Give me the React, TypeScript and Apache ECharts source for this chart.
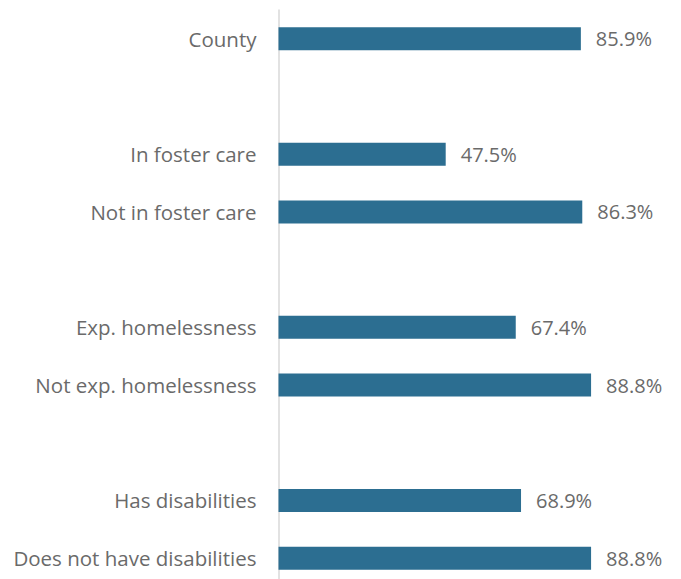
import React, { useEffect, useRef } from "react";
import * as echarts from "echarts";

const categories: string[] = [
  "County",
  "",
  "In foster care",
  "Not in foster care",
  " ",
  "Exp. homelessness",
  "Not exp. homelessness",
  "  ",
  "Has disabilities",
  "Does not have disabilities",
];

const values: (number | null)[] = [85.9, null, 47.5, 86.3, null, 67.4, 88.8, null, 68.9, 88.8];

const BAR_COLOR = "#2c6e91";
const TEXT_COLOR = "#6a6a6a";
const FONT = "'Open Sans', 'Noto Sans', sans-serif";

export default function App() {
  const ref = useRef<HTMLDivElement>(null);
  useEffect(() => {
    if (!ref.current) return;
    const chart = echarts.init(ref.current, undefined, { renderer: "svg" });
    chart.setOption({
      animation: false,
      grid: { left: 270.5, top: 2, width: 352, height: 577, containLabel: false },
      xAxis: {
        type: "value",
        min: 0,
        max: 100,
        show: false,
      },
      yAxis: {
        type: "category",
        inverse: true,
        data: categories,
        axisLine: { show: true, lineStyle: { color: "#d9d9d9", width: 1.5 } },
        axisTick: { show: false },
        axisLabel: {
          color: TEXT_COLOR,
          fontFamily: FONT,
          fontSize: 20.5,
          margin: 22,
        },
        splitLine: { show: false },
      },
      series: [
        {
          type: "bar",
          data: values,
          barWidth: 23,
          itemStyle: { color: BAR_COLOR },
          label: {
            show: true,
            position: "right",
            distance: 15,
            color: TEXT_COLOR,
            fontFamily: FONT,
            fontSize: 20,
            formatter: (p: any) => (p.value == null ? "" : p.value.toFixed(1) + "%"),
          },
        },
      ],
    });
    return () => chart.dispose();
  }, []);
  return <div ref={ref} style={{ width: 665, height: 590 }} />;
}
